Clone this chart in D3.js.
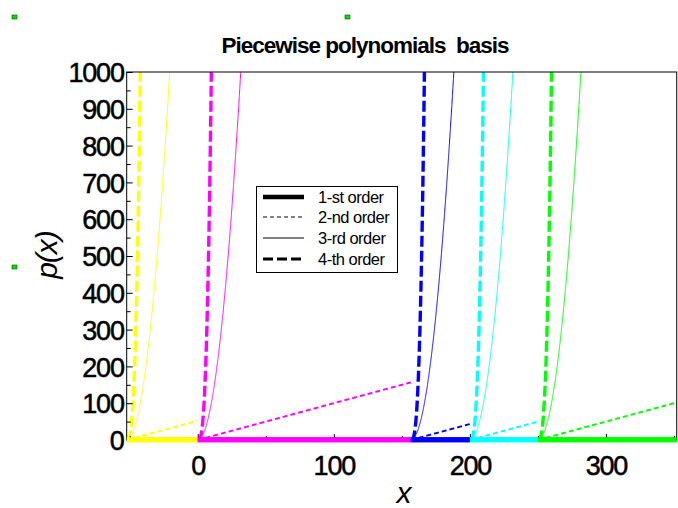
<!DOCTYPE html>
<html>
<head>
<meta charset="utf-8">
<script src="https://cdn.jsdelivr.net/npm/d3@7"></script>
<style>
  body { margin: 0; background: #fff; }
  text { font-family: "Liberation Sans", Arial, sans-serif; }
</style>
</head>
<body>
<svg id="chart" width="678" height="508"></svg>
<script>
// Knot positions bounding each polynomial piece
const knots = [-52.2, 0, 156.6, 200, 250, 352];
// One colour per piece
const pieceColors = ["#ffff00", "#ff00ff", "#0000ff", "#00ffff", "#00ff00"];
// Polynomial orders (order n -> degree n-1)
const orders = [1, 2, 3, 4];
const orderLabels = ["1-st order", "2-nd order", "3-rd order", "4-th order"];
const xTickValues = [0, 100, 200, 300];
const xMinorTicks = [-50, 50, 150, 250, 350];
const yTickValues = [0, 100, 200, 300, 400, 500, 600, 700, 800, 900, 1000];
const yMinorTicks = [50, 150, 250, 350, 450, 550, 650, 750, 850, 950];

const lineStyle = {
  1: { width: 5, dash: null },
  2: { width: 1.9, dash: "5,3" },
  3: { width: 1, dash: null },
  4: { width: 3.4, dash: "11,4" }
};

const svg = d3.select("#chart");
const plot = { left: 126.7, right: 676.7, top: 72, bottom: 440 };

const x = d3.scaleLinear().domain([knots[0], knots[knots.length - 1]]).range([plot.left, plot.right]);
const y = d3.scaleLinear().domain([0, 1000]).range([plot.bottom, plot.top]);

svg.append("defs").append("clipPath").attr("id", "plotClip")
  .append("rect")
  .attr("x", plot.left).attr("y", plot.top)
  .attr("width", plot.right - plot.left).attr("height", plot.bottom - plot.top + 6);

// Piecewise basis: on piece i the order-n function is (x - knot_i)^(n-1)
const curves = [];
for (let i = 0; i < knots.length - 1; i++) {
  const k0 = knots[i], k1 = knots[i + 1];
  const xs = d3.range(k0, k1, 0.05).concat([k1]);
  orders.forEach(n => {
    curves.push({ piece: i, order: n, pts: xs.map(v => [v, Math.pow(v - k0, n - 1)]) });
  });
}

const line = d3.line().x(d => x(d[0])).y(d => y(Math.min(d[1], 1100)));

svg.append("g").attr("clip-path", "url(#plotClip)")
  .selectAll("path").data(curves).join("path")
  .attr("d", d => line(d.pts))
  .attr("fill", "none")
  .attr("stroke", d => pieceColors[d.piece])
  .attr("stroke-width", d => lineStyle[d.order].width)
  .attr("stroke-dasharray", d => lineStyle[d.order].dash);

// Axes with inward ticks
const styleTickText = sel => sel
  .attr("font-size", "27px").attr("letter-spacing", "-1.2px")
  .attr("fill", "#000").attr("stroke", "#000").attr("stroke-width", 0.5);

const yAxis = d3.axisLeft(y).tickValues(yTickValues).tickFormat(d3.format("d"))
  .tickSizeInner(-6).tickSizeOuter(0);
const gy = svg.append("g").attr("transform", `translate(${plot.left},0)`).call(yAxis);
gy.select(".domain").remove();
gy.selectAll("text").call(styleTickText).attr("dy", "0.36em").attr("x", -3);
gy.selectAll("line").attr("stroke", "#000");

const yMinor = d3.axisLeft(y).tickValues(yMinorTicks).tickSizeInner(-4).tickSizeOuter(0).tickFormat("");
const gym = svg.append("g").attr("transform", `translate(${plot.left},0)`).call(yMinor);
gym.select(".domain").remove();

const xAxis = d3.axisBottom(x).tickValues(xTickValues).tickFormat(d3.format("d"))
  .tickSizeInner(-6).tickSizeOuter(0).tickPadding(16);
const gx = svg.append("g").attr("transform", `translate(0,${plot.bottom})`).call(xAxis);
gx.select(".domain").remove();
gx.selectAll("text").call(styleTickText);
gx.selectAll("line").attr("stroke", "#000");

const xMinor = d3.axisBottom(x).tickValues(xMinorTicks).tickSizeInner(-4).tickSizeOuter(0).tickFormat("");
const gxm = svg.append("g").attr("transform", `translate(0,${plot.bottom})`).call(xMinor);
gxm.select(".domain").remove();

// Frame
svg.append("rect")
  .attr("x", plot.left).attr("y", plot.top)
  .attr("width", plot.right - plot.left).attr("height", plot.bottom - plot.top)
  .attr("fill", "none").attr("stroke", "#000").attr("stroke-width", 1);

// Order-1 pieces drawn over the frame bottom
svg.append("g")
  .selectAll("path").data(curves.filter(c => c.order === 1)).join("path")
  .attr("d", d => line(d.pts))
  .attr("fill", "none")
  .attr("stroke", d => pieceColors[d.piece])
  .attr("stroke-width", lineStyle[1].width);

// Title and axis labels
svg.append("text").attr("x", 365).attr("y", 53).attr("text-anchor", "middle")
  .attr("font-size", "22.5px").attr("font-weight", "bold").attr("letter-spacing", "-1px")
  .style("white-space", "pre")
  .text("Piecewise polynomials  basis");

svg.append("text").attr("x", 404).attr("y", 503).attr("text-anchor", "middle")
  .attr("font-size", "30px").attr("font-style", "italic").text("x");

svg.append("text").attr("transform", "translate(57,255) rotate(-90)").attr("text-anchor", "middle")
  .attr("font-size", "30px").attr("font-style", "italic").attr("letter-spacing", "-1px").text("p(x)");

// Legend
const lg = svg.append("g");
lg.append("rect").attr("x", 256.5).attr("y", 186.5).attr("width", 141).attr("height", 86)
  .attr("fill", "#fff").attr("stroke", "#000").attr("stroke-width", 1);
const rowY = [197, 217, 238, 259];
orders.forEach((n, i) => {
  lg.append("line").attr("x1", 263).attr("x2", 304).attr("y1", rowY[i]).attr("y2", rowY[i])
    .attr("stroke", "#000").attr("stroke-width", n === 1 ? 4.5 : (n === 4 ? 3.2 : 1))
    .attr("stroke-dasharray", n === 2 ? "4,3" : (n === 4 ? "10,4" : null));
  lg.append("text").attr("x", 318).attr("y", rowY[i] + 5.5).attr("font-size", "16.5px")
    .attr("letter-spacing", "-0.5px").text(orderLabels[i]);
});

// Small selection markers
const markers = [[12, 15], [345, 15], [12, 265]];
svg.append("g").selectAll("rect").data(markers).join("rect")
  .attr("x", d => d[0]).attr("y", d => d[1]).attr("width", 5).attr("height", 4)
  .attr("fill", "#00dd00").attr("stroke", "#005500").attr("stroke-width", 0.6);
</script>
</body>
</html>
